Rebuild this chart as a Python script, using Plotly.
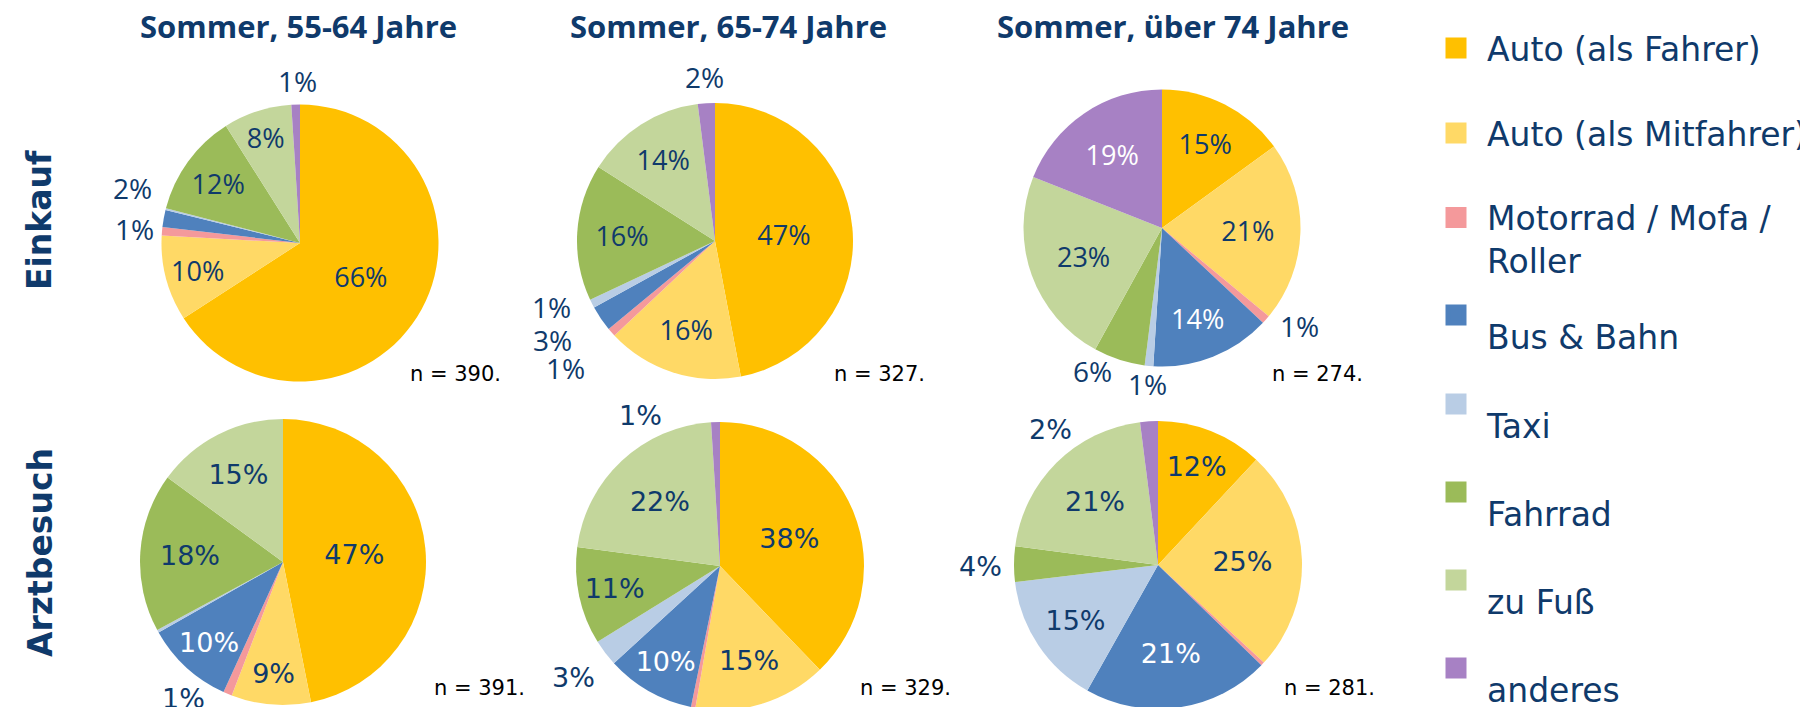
import math

import plotly.graph_objects as go

W, H = 1808, 707
OFF = 8  # page body margin of the html output
NAVY = "#0f3a6b"

# --- data -------------------------------------------------------------
modes = [
    "Auto (als Fahrer)", "Auto (als Mitfahrer)", "Motorrad / Mofa / Roller",
    "Bus & Bahn", "Taxi", "Fahrrad", "zu Fuß", "anderes",
]
legend_names = [
    "Auto (als Fahrer)", "Auto (als Mitfahrer)", "Motorrad / Mofa /<br>Roller",
    "<br>Bus & Bahn", "<br>Taxi", "<br>Fahrrad", "<br>zu Fuß", "<br>anderes",
]
mode_colors = ["#FFC000", "#FFD966", "#F4999B", "#4F81BD",
               "#B9CDE5", "#9BBB59", "#C3D69B", "#A781C4"]

age_titles = ["Sommer, 55-64 Jahre", "Sommer, 65-74 Jahre", "Sommer, über 74 Jahre"]
purposes = ["Einkauf", "Arztbesuch"]

einkauf_55_64 = [66, 10, 1, 2, 0.2, 12, 8, 1]
einkauf_65_74 = [47, 16, 1, 3, 1, 16, 14, 2]
einkauf_74plus = [15, 21, 1, 14, 1, 6, 23, 19]
arzt_55_64 = [47, 9, 1, 10, 0.3, 18, 15, 0]
arzt_65_74 = [38, 15, 0.5, 10, 3, 11, 22, 1]
arzt_74plus = [12, 25, 0.4, 21, 15, 4, 21, 2]

n_einkauf = [390, 327, 274]
n_arzt = [391, 329, 281]

# --- layout -----------------------------------------------------------
# pie centre / radius in screen pixels
pie_boxes = [
    [(300, 243, 138.5), (715, 241, 138), (1162, 228, 138.5)],
    [(283, 562, 143), (720, 566, 144), (1158, 565, 144)],
]
row_fonts = ["Open Sans", "DejaVu Sans"]
row_font_size = [28, 27]
inside_colors = [NAVY, NAVY, NAVY, "white", NAVY, NAVY, NAVY, "white"]
# outside labels: (pie, slice) -> (angle nudge in degrees, radius factor)
outside_tweaks = {
    (0, 2): (0, 1.2), (0, 3): (8, 1.27), (0, 7): (1, 1.17),
    (1, 2): (1, 1.42), (1, 3): (3, 1.38), (1, 4): (5, 1.28), (1, 7): (0, 1.19),
    (2, 2): (-6, 1.22), (2, 4): (0, 1.13), (2, 5): (8, 1.15),
    (3, 2): (13.5, 1.18),
    (4, 4): (0, 1.28), (4, 7): (-26, 1.18),
    (5, 5): (-1, 1.23), (5, 7): (-35, 1.2),
}


def px(x):
    return (x - OFF) / W


def py(y):
    return 1 - (y - OFF) / H


def domain(cx, cy, r):
    return dict(x=[max(0, px(cx - r)), min(1, px(cx + r))],
                y=[max(0, py(cy + r)), min(1, py(cy - r))])


fig = go.Figure()
annotations = []

rows = [[einkauf_55_64, einkauf_65_74, einkauf_74plus],
        [arzt_55_64, arzt_65_74, arzt_74plus]]

for ri, row in enumerate(rows):
    for ci, vals in enumerate(row):
        texts = [f"{v:.0f}%" if v >= 0.8 else "" for v in vals]
        pos = ["inside" if v >= 7 else "none" for v in vals]
        cx, cy, r = pie_boxes[ri][ci]
        fig.add_trace(go.Pie(
            labels=modes, values=vals, text=texts, textinfo="text",
            textposition=pos, sort=False, direction="clockwise", rotation=0,
            marker=dict(colors=mode_colors, line=dict(width=0)),
            insidetextorientation="horizontal",
            textfont=dict(family=row_fonts[ri], size=row_font_size[ri]),
            insidetextfont=dict(color=inside_colors),
            domain=domain(cx, cy, r),
            showlegend=False, hoverinfo="label+value",
        ))
        # small slices: label outside, at the slice's mid angle
        total = sum(vals)
        cum = 0
        for si, v in enumerate(vals):
            mid = (cum + v / 2) / total * 360
            cum += v
            if pos[si] == "inside" or not texts[si]:
                continue
            nudge, k = outside_tweaks.get((ri * 3 + ci, si), (0, 1.2))
            th = math.radians(mid + nudge)
            annotations.append(dict(
                text=texts[si], xref="paper", yref="paper",
                x=px(cx + k * r * math.sin(th)),
                y=py(cy - k * r * math.cos(th)),
                xanchor="center", yanchor="middle", showarrow=False,
                font=dict(family=row_fonts[ri], size=row_font_size[ri], color=NAVY),
            ))

# legend entries (one legend per item for PowerPoint-like spacing)
legend_slots = [(48, "middle"), (133, "middle"), (239, "top"), (315, "middle"),
                (404, "middle"), (492, "middle"), (580, "middle"), (668, "middle")]
for i, (name, col) in enumerate(zip(legend_names, mode_colors)):
    key = "legend" if i == 0 else f"legend{i + 1}"
    fig.add_trace(go.Scatter(
        x=[None], y=[None], mode="markers", name=name, legend=key,
        marker=dict(symbol="square", size=16, color=col, line=dict(width=5, color=col)),
        showlegend=True, hoverinfo="skip",
    ))
    yc, valign = legend_slots[i]
    fig.update_layout(**{key: dict(
        x=px(1425), xanchor="left", y=py(yc), yanchor="middle",
        valign=valign, bgcolor="rgba(0,0,0,0)", itemwidth=52,
        font=dict(family="DejaVu Sans", size=33, color=NAVY),
    )})

title_x = [298, 728, 1173]
for t, x in zip(age_titles, title_x):
    annotations.append(dict(
        text=f"<b>{t}</b>", x=px(x), y=py(26), xref="paper", yref="paper",
        xanchor="center", yanchor="middle", showarrow=False, borderpad=0,
        font=dict(family="Open Sans", size=31, color=NAVY),
    ))
row_label_y = [220, 553]
for p, y in zip(purposes, row_label_y):
    annotations.append(dict(
        text=f"<b>{p}</b>", x=px(40), y=py(y), xref="paper", yref="paper",
        xanchor="center", yanchor="middle", showarrow=False, textangle=-90,
        font=dict(family="DejaVu Sans", size=33, color=NAVY),
    ))
n_pos = [[(408, 374), (832, 374), (1270, 374)], [(432, 688), (858, 688), (1282, 688)]]
for ri, ns in enumerate([n_einkauf, n_arzt]):
    for ci, n in enumerate(ns):
        x, y = n_pos[ri][ci]
        annotations.append(dict(
            text=f"n = {n}.", x=px(x), y=py(y), xref="paper", yref="paper",
            xanchor="left", yanchor="middle", showarrow=False,
            font=dict(family="DejaVu Sans", size=21, color="black"),
        ))

fig.update_layout(
    width=W, height=H,
    margin=dict(l=0, r=0, t=0, b=0, autoexpand=False),
    paper_bgcolor="white", plot_bgcolor="white",
    xaxis=dict(visible=False), yaxis=dict(visible=False),
    uniformtext=dict(minsize=27, mode="show"),
    annotations=annotations,
)

fig.write_html("out.html")
